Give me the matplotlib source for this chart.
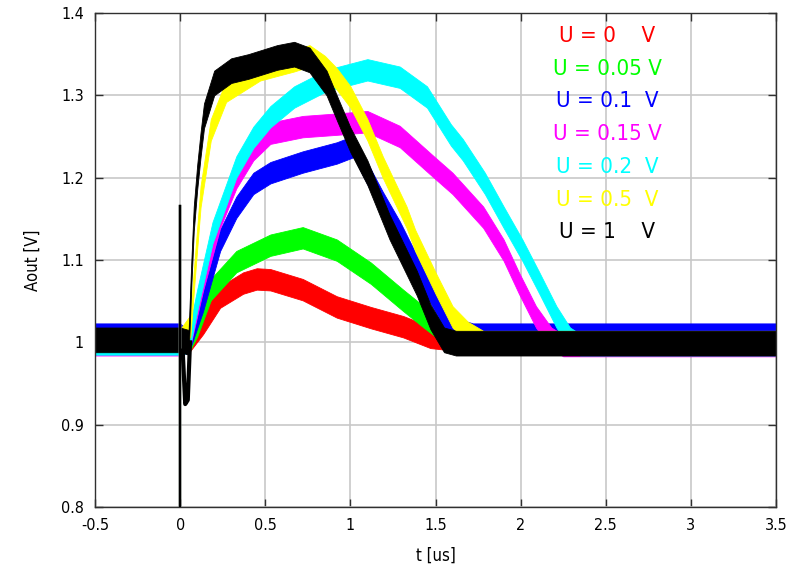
import matplotlib
matplotlib.use("Agg")
import matplotlib.pyplot as plt
import numpy as np

# ---------------- data ----------------
labels = ["U = 0    V", "U = 0.05 V", "U = 0.1  V", "U = 0.15 V",
          "U = 0.2  V", "U = 0.5  V", "U = 1    V"]
colors = ["#ff0000", "#00ff00", "#0000ff", "#ff00ff", "#00ffff", "#ffff00", "#000000"]

red_t = [-0.5, 0.0, 0.05, 0.135, 0.235, 0.37, 0.45, 0.53, 0.72, 0.92, 1.12, 1.31, 1.47, 1.56, 3.5]
red_v = [1.005, 1.005, 1.0, 1.023, 1.055, 1.072, 1.077, 1.076, 1.064, 1.043, 1.03, 1.019, 1.006, 1.004, 1.004]

green_t = [-0.5, 0.0, 0.05, 0.1, 0.18, 0.33, 0.53, 0.72, 0.92, 1.12, 1.31, 1.43, 1.55, 1.62, 3.5]
green_v = [1.005, 1.005, 1.0, 1.02, 1.064, 1.098, 1.118, 1.127, 1.112, 1.084, 1.051, 1.031, 1.012, 1.006, 1.006]

blue_t = [-0.5, 0.0, 0.05, 0.135, 0.235, 0.33, 0.43, 0.53, 0.72, 0.92, 1.02, 1.1, 1.19, 1.29, 1.44, 1.55, 1.64, 1.72, 3.5]
blue_v = [1.01, 1.01, 1.0, 1.051, 1.124, 1.164, 1.193, 1.206, 1.219, 1.23, 1.238, 1.205, 1.17, 1.134, 1.072, 1.031, 1.015, 1.01, 1.01]

magenta_t = [-0.5, 0.0, 0.05, 0.135, 0.235, 0.33, 0.43, 0.53, 0.72, 0.92, 1.1, 1.29, 1.49, 1.6, 1.78, 1.9, 1.99, 2.09, 2.18, 2.25, 3.5]
magenta_v = [0.997, 0.997, 1.0, 1.076, 1.152, 1.2, 1.234, 1.254, 1.262, 1.265, 1.268, 1.25, 1.213, 1.193, 1.152, 1.112, 1.072, 1.031, 1.005, 0.996, 0.996]

cyan_t = [-0.5, 0.0, 0.05, 0.1, 0.19, 0.33, 0.43, 0.53, 0.67, 0.86, 1.1, 1.29, 1.45, 1.59, 1.66, 1.79, 1.9, 2.01, 2.11, 2.21, 2.29, 2.35, 3.5]
cyan_v = [0.998, 0.998, 1.0, 1.051, 1.133, 1.213, 1.249, 1.274, 1.298, 1.318, 1.331, 1.322, 1.298, 1.252, 1.234, 1.193, 1.152, 1.112, 1.072, 1.031, 1.005, 0.997, 0.997]

yellow_t = [-0.5, 0.0, 0.06, 0.09, 0.12, 0.18, 0.27, 0.47, 0.67, 0.76, 0.85, 0.92, 1.0, 1.1, 1.19, 1.33, 1.38, 1.5, 1.6, 1.69, 1.78, 3.5]
yellow_v = [1.003, 1.003, 1.02, 1.1, 1.177, 1.258, 1.305, 1.331, 1.342, 1.348, 1.335, 1.32, 1.298, 1.258, 1.213, 1.152, 1.124, 1.072, 1.031, 1.012, 1.001, 1.001]

black_t = [-0.5, 0.0, 0.05, 0.065, 0.08, 0.1, 0.12, 0.14, 0.2, 0.3, 0.4, 0.57, 0.67, 0.76, 0.86, 0.92, 1.0, 1.1, 1.23, 1.39, 1.47, 1.55, 1.62, 3.5]
black_v = [1.003, 1.003, 1.0, 1.08, 1.15, 1.2, 1.24, 1.275, 1.315, 1.33, 1.335, 1.346, 1.35, 1.343, 1.315, 1.285, 1.246, 1.206, 1.14, 1.072, 1.031, 1.003, 0.999, 0.999]

series_t = [red_t, green_t, blue_t, magenta_t, cyan_t, yellow_t, black_t]
series_v = [red_v, green_v, blue_v, magenta_v, cyan_v, yellow_v, black_v]
noise_half = [0.013, 0.013, 0.013, 0.013, 0.013, 0.013, 0.015]

# switching spike at t = 0 and black dip just after it
spike_t = [0.0, 0.0]
spike_v = [0.80, 1.165]
dip_t = [0.015, 0.03, 0.045, 0.058]
dip_v = [0.99, 0.925, 0.93, 1.0]

xticks = [-0.5, 0, 0.5, 1, 1.5, 2, 2.5, 3, 3.5]
xtick_labels = ["-0.5", "0", "0.5", "1", "1.5", "2", "2.5", "3", "3.5"]
yticks = [0.8, 0.9, 1.0, 1.1, 1.2, 1.3, 1.4]
ytick_labels = ["0.8", "0.9", "1", "1.1", "1.2", "1.3", "1.4"]

# ---------------- figure ----------------
FONT = dict(family="DejaVu Sans", stretch="condensed")

fig = plt.figure(figsize=(8.05, 5.77), dpi=100)
ax = fig.add_axes([95 / 805, 1 - 507 / 577, (776 - 95) / 805, (507 - 13) / 577])

ax.set_xlim(-0.5, 3.5)
ax.set_ylim(0.8, 1.4)
ax.grid(True, color="#c8c8c8", linewidth=1.2)
ax.set_axisbelow(True)

for t, v, c, h in zip(series_t, series_v, colors, noise_half):
    t = np.asarray(t)
    v = np.asarray(v)
    ax.fill_between(t, v - h, v + h, color=c, linewidth=0.6, edgecolor=c, zorder=2)

for c in colors:
    ax.plot(spike_t, spike_v, color=c, linewidth=1.6, zorder=3)
ax.plot(dip_t, dip_v, color="black", linewidth=3.0, zorder=3)

ax.set_xticks(xticks)
ax.set_xticklabels(xtick_labels, fontsize=11.5, **FONT)
ax.set_yticks(yticks)
ax.set_yticklabels(ytick_labels, fontsize=11.5, **FONT)
ax.tick_params(direction="in", length=6, width=1.0, color="#303030",
               top=True, right=True, pad=8)
for s in ax.spines.values():
    s.set_color("#303030")
    s.set_linewidth(1.0)

ax.set_xlabel("t [us]", fontsize=12, labelpad=10, **FONT)
ax.set_ylabel("Aout [V]", fontsize=12, labelpad=14, **FONT)

# legend-like labels (text only)
for i, (lab, c) in enumerate(zip(labels, colors)):
    fig.text(607 / 805, 1 - (36 + i * 32.7) / 577, lab, color=c, fontsize=16,
             ha="center", va="center", **FONT)

fig.savefig("out.png", dpi=100)
